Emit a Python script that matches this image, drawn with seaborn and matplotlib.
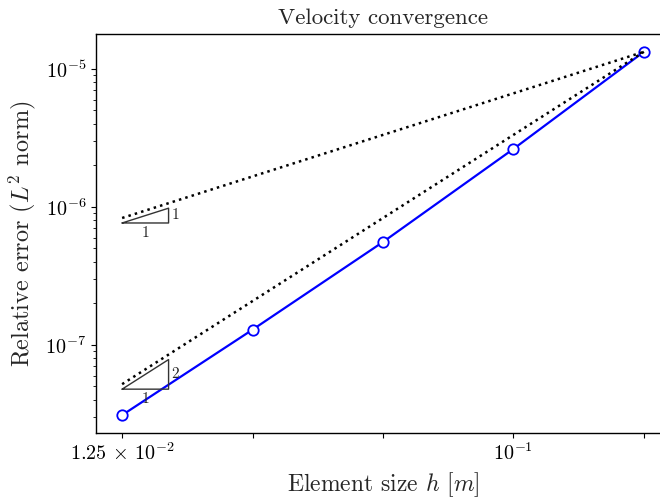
import numpy as np
import pandas as pd
import matplotlib
matplotlib.use("Agg")
import matplotlib.pyplot as plt
import seaborn as sns
from matplotlib.ticker import FixedLocator, FixedFormatter, NullLocator

# ---- data ----
h = [0.0125, 0.025, 0.05, 0.1, 0.2]
error = [3.1e-8, 1.29e-7, 5.57e-7, 2.63e-6, 1.33e-5]
ref_orders = [1, 2]
xtick_labels = [r"$1.25\,\times\,10^{-2}$", "", "", r"$10^{-1}$", ""]

sns.set_style("ticks")
plt.rcParams["font.family"] = ["serif"]
plt.rcParams["font.serif"] = ["cmr10", "DejaVu Serif"]
plt.rcParams["mathtext.fontset"] = "cm"
plt.rcParams["axes.formatter.use_mathtext"] = True
plt.rcParams["axes.unicode_minus"] = False
plt.rcParams["axes.edgecolor"] = "black"
plt.rcParams["xtick.color"] = "black"
plt.rcParams["ytick.color"] = "black"
plt.rcParams["axes.linewidth"] = 1.0

fig = plt.figure(figsize=(6.60, 4.99), dpi=100)
ax = fig.add_axes([96 / 660, 1 - 433 / 499, (670 - 96) / 660, (433 - 34) / 499])
ax.set(xscale="log", yscale="log")

df = pd.DataFrame({"h": h, "err": error})
sns.lineplot(data=df, x="h", y="err", ax=ax, color="blue", lw=1.6,
             marker="o", markersize=7.5, markerfacecolor="white",
             markeredgecolor="blue", markeredgewidth=1.3, errorbar=None, sort=False)

h_arr = np.array(h)
e_ref = error[-1]
for p in ref_orders:
    ref = e_ref * (h_arr / h_arr[-1]) ** p
    sns.lineplot(x=h_arr, y=ref, ax=ax, color="black", linestyle=":", lw=1.8,
                 errorbar=None)
    # slope triangle
    x0 = h_arr[0]
    x1 = x0 * 1.28
    y0 = ref[0] * 0.92
    y1 = y0 * (x1 / x0) ** p
    ax.plot([x0, x1, x1, x0], [y0, y0, y1, y0], color="0.2", lw=1.0)
    ax.text(np.sqrt(x0 * x1), y0 * 0.95, "1", ha="center", va="top", fontsize=11)
    ax.text(x1 * 1.015, np.sqrt(y0 * y1), str(p), ha="left", va="center", fontsize=11)

ax.set_xlim(0.01088, 0.2298)
ax.set_ylim(2.30e-8, 1.79e-5)
ax.xaxis.set_major_locator(FixedLocator(h))
ax.xaxis.set_major_formatter(FixedFormatter(xtick_labels))
ax.xaxis.set_minor_locator(NullLocator())
ax.tick_params(axis="both", which="major", labelsize=14.5, length=3.5, width=0.8)
ax.tick_params(axis="both", which="minor", length=2, width=0.6)

ax.set_title("Velocity convergence", fontsize=16.5, pad=7)
ax.set_xlabel(r"Element size $h$ $[m]$", fontsize=17)
ax.set_ylabel(r"Relative error ($L^2$ norm)", fontsize=17.5, labelpad=5)

fig.savefig("out.png", dpi=100)
